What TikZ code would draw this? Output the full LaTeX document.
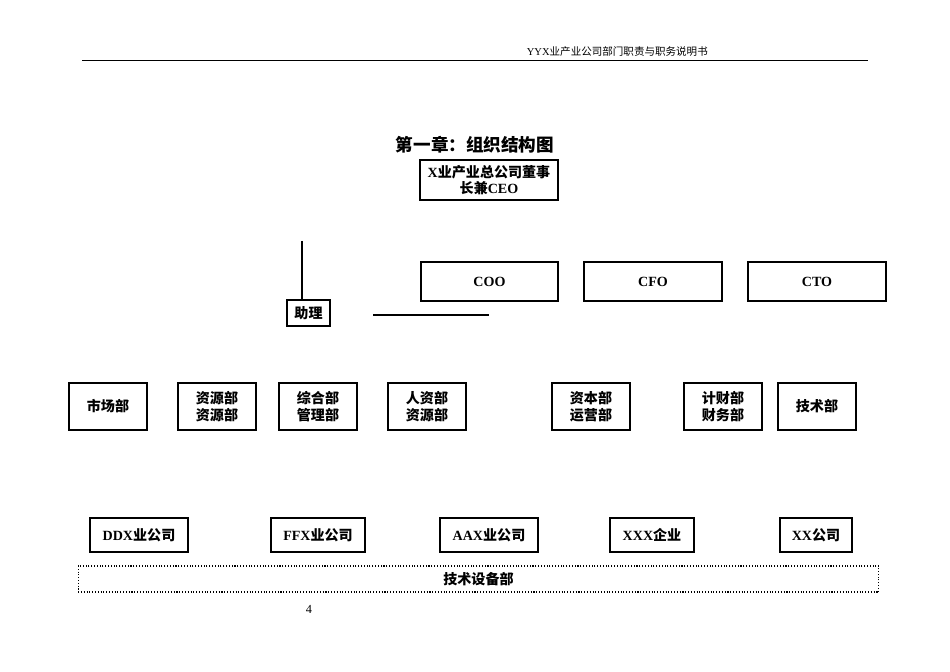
\documentclass[tikz,border=0pt]{standalone}
\usepackage{fontspec}
\setmainfont{Liberation Serif}
\newfontfamily\cjk{Noto Sans CJK SC}
\newcommand{\lt}[1]{{\rmfamily\bfseries #1}}

\tikzset{
  unit/.style={draw, line width=0.6pt, align=center, inner sep=0pt,
    font=\cjk\bfseries\fontsize{8}{9.5}\selectfont},
  wunit/.style={unit, minimum height=0.94cm},
  tunit/.style={unit, minimum height=0.68cm},
  link/.style={line width=0.6pt}
}

\begin{document}
\begin{tikzpicture}[x=0.02cm, y=-0.02cm]
  \useasboundingbox (0,0) rectangle (950,672);

  % Page header
  \node[anchor=east, font=\cjk\fontsize{6}{7}\selectfont] (header) at (714,52) {\lt{\mdseries YYX}业产业公司部门职责与职务说明书};
  \coordinate (hl) at (82,60);
  \coordinate (hr) at (868,60);
  \draw[line width=0.5pt] (hl) -- (hr);

  \node[font=\cjk\bfseries\fontsize{10}{12}\selectfont] (title) at (475,145) {第一章：组织结构图};

  % Top level
  \node[unit, minimum width=2.76cm, minimum height=0.8cm] (ceo) at (489,180) {\lt{X}业产业总公司董事\\长兼\lt{CEO}};
  \node[unit, minimum width=0.86cm, minimum height=0.52cm] (helper) at (308.5,313) {助理};
  \coordinate (vtop) at (302,241);
  \draw[link] (vtop) -- (helper.north -| vtop);
  \coordinate (hs) at (373,315);
  \coordinate (he) at (489,315);
  \draw[link] (hs) -- (he);

  \node[unit, minimum width=2.74cm, minimum height=0.78cm] (coo) at (489.5,281.5) {\lt{COO}};
  \node[unit, minimum width=2.76cm, minimum height=0.78cm] (cfo) at (653,281.5) {\lt{CFO}};
  \node[unit, minimum width=2.76cm, minimum height=0.78cm] (cto) at (817,281.5) {\lt{CTO}};

  % Departments
  \node[wunit, minimum width=1.56cm] (market) at (108,406.5) {市场部};
  \node[wunit, minimum width=1.56cm] (res) at (217,406.5) {资源部\\资源部};
  \node[wunit, minimum width=1.56cm] (admin) at (318,406.5) {综合部\\管理部};
  \node[wunit, minimum width=1.56cm] (hr) at (427,406.5) {人资部\\资源部};
  \node[wunit, minimum width=1.56cm] (capital) at (591,406.5) {资本部\\运营部};
  \node[wunit, minimum width=1.56cm] (finance) at (723,406.5) {计财部\\财务部};
  \node[wunit, minimum width=1.56cm] (tech) at (817,406.5) {技术部};

  % Subsidiaries
  \node[tunit, minimum width=1.96cm] (ddx) at (139,535) {\lt{DDX}业公司};
  \node[tunit, minimum width=1.88cm] (ffx) at (318,535) {\lt{FFX}业公司};
  \node[tunit, minimum width=1.96cm] (aax) at (489,535) {\lt{AAX}业公司};
  \node[tunit, minimum width=1.68cm] (xxx) at (652,535) {\lt{XXX}企业};
  \node[tunit, minimum width=1.44cm] (xx) at (816,535) {\lt{XX}公司};

  \node[unit, densely dotted, minimum width=16.02cm, minimum height=0.52cm] (equip) at (478.5,579) {技术设备部};

  \node[font=\fontsize{7}{8}\selectfont] (page) at (309,609) {4};
\end{tikzpicture}
\end{document}
